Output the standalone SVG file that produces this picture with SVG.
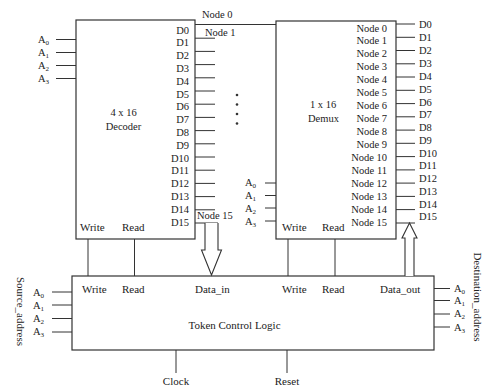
<svg xmlns="http://www.w3.org/2000/svg" width="486" height="389" viewBox="0 0 486 389">
<style>
  text { font-family: "Liberation Serif", "Times New Roman", serif; fill: #222; }
  .s { font-size: 10.5px; }
  .m { font-size: 11px; }
  .r { text-anchor: end; }
  .c { text-anchor: middle; }
  .sub { font-size: 7px; }
  .box { fill: #fff; stroke: #333; stroke-width: 1.2; }
  .ln { stroke: #333; stroke-width: 1; fill: none; }
  .arr { fill: #fff; stroke: #333; stroke-width: 1.1; stroke-linejoin: miter; }
</style>
<rect width="486" height="389" fill="#fff"/>

<g id="decoder">
  <rect class="box" x="76" y="20" width="119" height="219"/>
  <text class="s c" x="123.5" y="116">4 x 16</text>
  <text class="s c" x="123.5" y="130">Decoder</text>
  <g class="s r">
    <text x="189" y="33.5">D0</text>
    <text x="189" y="46.3">D1</text>
    <text x="189" y="59.1">D2</text>
    <text x="189" y="71.9">D3</text>
    <text x="189" y="84.7">D4</text>
    <text x="189" y="97.5">D5</text>
    <text x="189" y="110.3">D6</text>
    <text x="189" y="123.1">D7</text>
    <text x="189" y="135.9">D8</text>
    <text x="189" y="148.7">D9</text>
    <text x="189" y="161.5">D10</text>
    <text x="189" y="174.3">D11</text>
    <text x="189" y="187.1">D12</text>
    <text x="189" y="199.9">D13</text>
    <text x="189" y="212.7">D14</text>
    <text x="189" y="225.5">D15</text>
  </g>
  <text class="m" x="80" y="231">Write</text>
  <text class="m" x="122" y="231">Read</text>
  <g class="s">
    <text x="38" y="43">A<tspan class="sub" dy="2">0</tspan></text>
    <text x="38" y="56">A<tspan class="sub" dy="2">1</tspan></text>
    <text x="38" y="69">A<tspan class="sub" dy="2">2</tspan></text>
    <text x="38" y="82">A<tspan class="sub" dy="2">3</tspan></text>
  </g>
  <circle cx="237" cy="95" r="1.3" fill="#333"/>
  <circle cx="237" cy="104.5" r="1.3" fill="#333"/>
  <circle cx="237" cy="114" r="1.3" fill="#333"/>
  <circle cx="237" cy="123.5" r="1.3" fill="#333"/>
</g>

<g id="demux">
  <rect class="box" x="276" y="21" width="120" height="218"/>
  <text class="s c" x="323" y="108">1 x 16</text>
  <text class="s c" x="323.5" y="122">Demux</text>
  <g class="s r">
    <text x="387" y="31.5">Node 0</text>
    <text x="387" y="44.4">Node 1</text>
    <text x="387" y="57.4">Node 2</text>
    <text x="387" y="70.3">Node 3</text>
    <text x="387" y="83.2">Node 4</text>
    <text x="387" y="96.2">Node 5</text>
    <text x="387" y="109.1">Node 6</text>
    <text x="387" y="122">Node 7</text>
    <text x="387" y="135">Node 8</text>
    <text x="387" y="147.9">Node 9</text>
    <text x="387" y="160.8">Node 10</text>
    <text x="387" y="173.8">Node 11</text>
    <text x="387" y="186.7">Node 12</text>
    <text x="387" y="199.6">Node 13</text>
    <text x="387" y="212.6">Node 14</text>
    <text x="387" y="225.5">Node 15</text>
  </g>
  <g class="s">
    <text x="419" y="28">D0</text>
    <text x="419" y="41">D1</text>
    <text x="419" y="54">D2</text>
    <text x="419" y="67">D3</text>
    <text x="419" y="80">D4</text>
    <text x="419" y="92.7">D5</text>
    <text x="419" y="105.5">D6</text>
    <text x="419" y="118.3">D7</text>
    <text x="419" y="131">D8</text>
    <text x="419" y="143.8">D9</text>
    <text x="419" y="156.5">D10</text>
    <text x="419" y="169.3">D11</text>
    <text x="419" y="182">D12</text>
    <text x="419" y="194.8">D13</text>
    <text x="419" y="207.5">D14</text>
    <text x="419" y="220.3">D15</text>
  </g>
  <text class="m" x="282" y="231">Write</text>
  <text class="m" x="322" y="231">Read</text>
  <g class="s">
    <text x="245" y="186">A<tspan class="sub" dy="2">0</tspan></text>
    <text x="245" y="199">A<tspan class="sub" dy="2">1</tspan></text>
    <text x="245" y="211.5">A<tspan class="sub" dy="2">2</tspan></text>
    <text x="245" y="224.5">A<tspan class="sub" dy="2">3</tspan></text>
  </g>
</g>

<g id="control">
  <rect class="box" x="72" y="276" width="362" height="74"/>
  <text class="m" x="82" y="293">Write</text>
  <text class="m" x="122" y="293">Read</text>
  <text class="m" x="195" y="293">Data_in</text>
  <text class="m" x="282" y="293">Write</text>
  <text class="m" x="322" y="293">Read</text>
  <text class="m" x="380" y="293">Data_out</text>
  <text class="m c" x="234.5" y="329">Token Control Logic</text>
  <g class="s">
    <text x="33" y="296">A<tspan class="sub" dy="2">0</tspan></text>
    <text x="33" y="309">A<tspan class="sub" dy="2">1</tspan></text>
    <text x="33" y="322">A<tspan class="sub" dy="2">2</tspan></text>
    <text x="33" y="335">A<tspan class="sub" dy="2">3</tspan></text>
    <text x="454" y="292">A<tspan class="sub" dy="2">0</tspan></text>
    <text x="454" y="304">A<tspan class="sub" dy="2">1</tspan></text>
    <text x="454" y="317">A<tspan class="sub" dy="2">2</tspan></text>
    <text x="454" y="330.5">A<tspan class="sub" dy="2">3</tspan></text>
  </g>
  <text class="m c" transform="translate(17,311.5) rotate(90)">Source_address</text>
  <text class="m c" transform="translate(474,297) rotate(90)">Destination_address</text>
  <text class="m c" x="176" y="385">Clock</text>
  <text class="m c" x="287" y="385">Reset</text>
</g>

<g id="connectors">
  <!-- decoder address inputs -->
  <path class="ln" d="M56,39.5H76M56,52.5H76M56,65.5H76M56,78.5H76"/>
  <!-- decoder outputs -->
  <path class="ln" d="M195,24.5H276"/>
  <path class="ln" d="M195,38.2H215M195,51.4H215M195,64.6H215M195,77.8H215M195,91H215M195,104.2H215M195,117.4H215M195,130.6H215M195,143.8H215M195,157H215M195,170.2H215M195,183.4H215M195,196.6H215M195,209.8H215"/>
  <path class="ln" d="M195,223H218"/>
  <text class="s" x="202" y="18">Node 0</text>
  <text class="s" x="205" y="36">Node 1</text>
  <text class="s" x="197" y="219">Node 15</text>
  <!-- demux outputs -->
  <path class="ln" d="M396,24H415M396,37.3H415M396,50.5H415M396,63.8H415M396,77H415M396,90.3H415M396,103.6H415M396,116.8H415M396,130.1H415M396,143.3H415M396,156.6H415M396,169.9H415M396,183.1H415M396,196.4H415M396,209.6H415M396,223H415"/>
  <!-- demux address inputs -->
  <path class="ln" d="M265,183H276M265,195.5H276M265,208H276M265,221H276"/>
  <!-- read/write -->
  <path class="ln" d="M88,239V276M134.5,239V276M288,239V276M335,239V276"/>
  <!-- Data_in arrow -->
  <path class="arr" d="M205,223V250H201.5L211.5,275L221.5,250H218V223"/>
  <!-- Data_out arrow -->
  <path class="arr" d="M405,276V238H402L409.5,223L417,238H414V276"/>
  <!-- control addresses -->
  <path class="ln" d="M52,292H72M52,305H72M52,318.5H72M52,332H72"/>
  <path class="ln" d="M434,288.5H450M434,300.5H450M434,314H450M434,327H450"/>
  <!-- clock/reset -->
  <path class="ln" d="M176,350V373M287,350V373"/>
</g>
</svg>
